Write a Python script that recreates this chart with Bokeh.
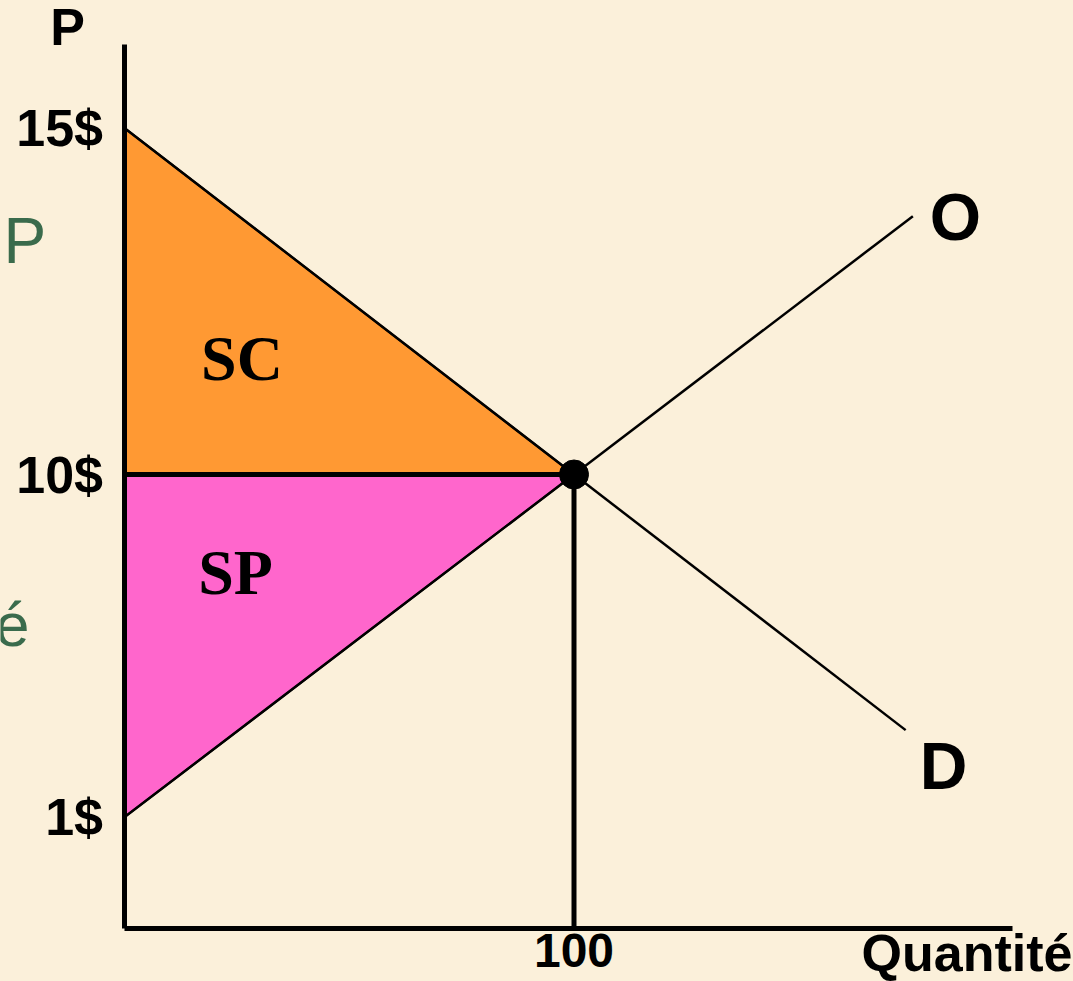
import numpy as np
from bokeh.plotting import figure
from bokeh.models import Range1d, LinearAxis, FixedTicker, Label, GlobalInlineStyleSheet
from bokeh.embed import file_html
from bokeh.resources import INLINE

# ---------------- data ----------------
price_labels = ["15$", "10$", "1$"]
prices = [15, 10, 1]
quantity_ticks = [100]
quantity_labels = ["100"]

eq_quantity = 100          # equilibrium quantity
eq_price = 10              # equilibrium price
demand_price_at_zero = 15  # demand curve D starts at 15$
supply_price_at_zero = 1   # supply curve O starts at 1$
demand_q_end = 173.7       # where the drawn D line stops
supply_q_end = 175.3       # where the drawn O line stops
q_axis_end = 197.4         # end of the quantity axis

# The original price axis is schematic (not to scale): drawn level of each price
scale_prices = [1, 10, 15]
scale_levels = [2.445, 10.0, 17.64]
y_axis_top = 19.47


def ypos(price):
    return float(np.interp(price, scale_prices, scale_levels))


def line_levels(p0, q_end):
    """straight line through (0, p0) and the equilibrium, extended to q_end"""
    y0, ye = ypos(p0), ypos(eq_price)
    return [y0, y0 + (ye - y0) * q_end / eq_quantity]


# ---------------- layout helpers ----------------
W, H = 1073, 981
OX, OY = 0, 0
AX_X, AX_Y = 123.5, 928.0   # page pixel of the origin
PX_Q, PX_Y = 4.5, 45.4      # pixels per data unit


def qx(px):  # page px -> data x
    return (px - AX_X) / PX_Q


def ly(py):  # page px -> data y
    return (AX_Y - py) / PX_Y


BG = "#FBF0DA"
ORANGE = "#FF9933"
PINK = "#FF66CC"
GREEN = "#3A6B4C"
SANS = "Liberation Sans"
SERIF = "Liberation Serif"

p = figure(width=W, height=H, output_backend="svg", toolbar_location=None,
           x_axis_type=None, y_axis_type=None, title=None,
           x_range=Range1d(qx(OX), qx(OX + W)), y_range=Range1d(ly(OY + H), ly(OY)),
           min_border=0, background_fill_color=BG, border_fill_color=BG,
           outline_line_color=None)
p.stylesheets = [GlobalInlineStyleSheet(css="html, body { background-color: %s; }" % BG)]

# ---------------- surplus areas ----------------
y15, y10, y1 = ypos(demand_price_at_zero), ypos(eq_price), ypos(supply_price_at_zero)
p.patch([0, 0, eq_quantity], [y15, y10, y10], fill_color=ORANGE, line_color="black", line_width=2)
p.patch([0, 0, eq_quantity], [y10, y1, y10], fill_color=PINK, line_color="black", line_width=2)

# ---------------- curves ----------------
p.line([0, demand_q_end], line_levels(demand_price_at_zero, demand_q_end), line_color="black", line_width=2.5)
p.line([0, supply_q_end], line_levels(supply_price_at_zero, supply_q_end), line_color="black", line_width=2.5)

# equilibrium guides and point
p.line([0, eq_quantity], [y10, y10], line_color="black", line_width=5)
p.line([eq_quantity, eq_quantity], [y10, 0], line_color="black", line_width=5)
p.scatter([eq_quantity], [y10], size=29, fill_color="black", line_color="black")

# ---------------- axes ----------------
yaxis = LinearAxis(fixed_location=0, bounds=(0, y_axis_top))
yaxis.ticker = FixedTicker(ticks=[ypos(v) for v in prices])
yaxis.major_label_overrides = {ypos(v): lab for v, lab in zip(prices, price_labels)}
xaxis = LinearAxis(fixed_location=0, bounds=(0, q_axis_end))
xaxis.ticker = FixedTicker(ticks=quantity_ticks)
xaxis.major_label_overrides = {q: lab for q, lab in zip(quantity_ticks, quantity_labels)}
for ax, size, standoff in ((yaxis, "52px", 21), (xaxis, "48px", 5)):
    ax.axis_line_width = 5
    ax.axis_line_color = "black"
    ax.major_tick_in = 0
    ax.major_tick_out = 0
    ax.minor_tick_in = 0
    ax.minor_tick_out = 0
    ax.major_label_text_font = SANS
    ax.major_label_text_font_style = "bold"
    ax.major_label_text_font_size = size
    ax.major_label_text_color = "black"
    ax.major_label_standoff = standoff
p.add_layout(yaxis, "left")
p.add_layout(xaxis, "below")

# ---------------- texts ----------------
def add_label(text, px, py, size, font=SANS, style="bold", align="center", color="black"):
    # py is the page y of the glyph baseline; correct for the renderer's baseline offset
    py_adj = py - 0.39 * size
    p.add_layout(Label(x=qx(px), y=ly(py_adj), text=text, text_font=font, text_font_style=style,
                       text_font_size="%dpx" % size, text_align=align, text_baseline="alphabetic",
                       text_color=color))


add_label("P", 67, 47, 52)
add_label("Quantité", 1072, 973, 52, align="right")
add_label("O", 955, 242, 66)
add_label("D", 943, 791, 66)
add_label("SC", 241.5, 383, 64, font=SERIF)
add_label("SP", 235, 597, 64, font=SERIF)
add_label("P", 3, 265, 64, style="normal", align="left", color=GREEN)
add_label("é", 29, 648, 62, style="normal", align="right", color=GREEN)

open("out.html", "w").write(file_html(p, INLINE))
